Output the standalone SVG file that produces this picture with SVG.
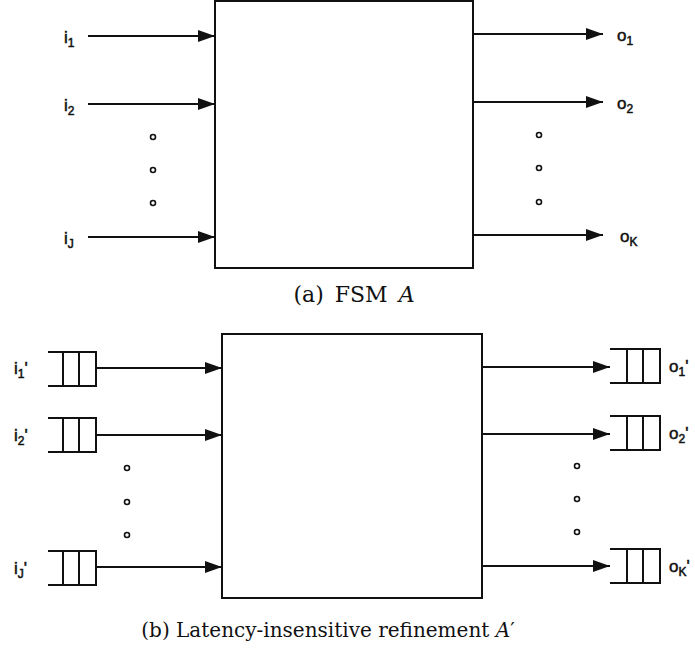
<svg xmlns="http://www.w3.org/2000/svg" width="695" height="655" viewBox="0 0 695 655">
<style>
.box{fill:none;stroke:#111;stroke-width:2}
.wire{stroke:#111;stroke-width:2;fill:none}
.q{stroke:#111;stroke-width:2;fill:none}
.dot{fill:#fff;stroke:#111;stroke-width:1.6}
.lbl{font-family:"Liberation Sans",Arial,sans-serif;font-size:17px;fill:#111;stroke:#111;stroke-width:0.5}
.sub{font-size:12px}
.cap{font-family:"DejaVu Serif","Liberation Serif",serif;font-size:20px;fill:#111}
.capa{font-size:22px;word-spacing:4px}
</style>
<defs>
<marker id="ah" viewBox="0 0 17 12" refX="17" refY="6" markerWidth="17" markerHeight="12" markerUnits="userSpaceOnUse" orient="auto">
<path d="M0,0 L17,6 L0,12 z" fill="#111"/>
</marker>
</defs>

<g id="fsmA">
<rect class="box" x="215" y="1" width="258" height="267"/>
</g>
<g id="labelsA">
<text class="lbl" x="64" y="43">i<tspan class="sub" dy="4">1</tspan></text>
<text class="lbl" x="64" y="111">i<tspan class="sub" dy="4">2</tspan></text>
<text class="lbl" x="64" y="244">i<tspan class="sub" dy="4">J</tspan></text>
<text class="lbl" x="617" y="41">o<tspan class="sub" dy="4">1</tspan></text>
<text class="lbl" x="617" y="109">o<tspan class="sub" dy="4">2</tspan></text>
<text class="lbl" x="620" y="242">o<tspan class="sub" dy="4">K</tspan></text>
</g>
<g id="dotsA">
<circle class="dot" cx="153" cy="137" r="2.5"/>
<circle class="dot" cx="153" cy="170" r="2.5"/>
<circle class="dot" cx="153" cy="203" r="2.5"/>
<circle class="dot" cx="539" cy="135" r="2.5"/>
<circle class="dot" cx="539" cy="168" r="2.5"/>
<circle class="dot" cx="539" cy="202" r="2.5"/>
</g>

<g id="fsmAprime">
<rect class="box" x="222" y="334" width="260" height="264"/>
</g>
<g id="inQueues">
<path class="q" d="M48,352 H96 V386 H48 M63,352 V386 M79,352 V386"/>
<path class="q" d="M48,418 H96 V452 H48 M63,418 V452 M79,418 V452"/>
<path class="q" d="M48,551 H96 V585 H48 M63,551 V585 M79,551 V585"/>
</g>
<g id="outQueues">
<path class="q" d="M610,349 H660 V383 H610 M627,349 V383 M643,349 V383"/>
<path class="q" d="M610,416 H660 V450 H610 M627,416 V450 M643,416 V450"/>
<path class="q" d="M610,549 H660 V583 H610 M627,549 V583 M643,549 V583"/>
</g>
<g id="labelsB">
<text class="lbl" x="14" y="374">i<tspan class="sub" dy="4">1</tspan><tspan dy="-4">'</tspan></text>
<text class="lbl" x="14" y="441">i<tspan class="sub" dy="4">2</tspan><tspan dy="-4">'</tspan></text>
<text class="lbl" x="14" y="574">i<tspan class="sub" dy="4">J</tspan><tspan dy="-4">'</tspan></text>
<text class="lbl" x="669" y="372">o<tspan class="sub" dy="4">1</tspan><tspan dy="-4">'</tspan></text>
<text class="lbl" x="669" y="439">o<tspan class="sub" dy="4">2</tspan><tspan dy="-4">'</tspan></text>
<text class="lbl" x="669" y="572">o<tspan class="sub" dy="4">K</tspan><tspan dy="-4">'</tspan></text>
</g>
<g id="dotsB">
<circle class="dot" cx="127" cy="468" r="2.5"/>
<circle class="dot" cx="127" cy="502" r="2.5"/>
<circle class="dot" cx="127" cy="535" r="2.5"/>
<circle class="dot" cx="577" cy="466" r="2.5"/>
<circle class="dot" cx="577" cy="499" r="2.5"/>
<circle class="dot" cx="577" cy="532" r="2.5"/>
</g>

<g id="connectors">
<line class="wire" x1="88" y1="36" x2="215" y2="36" marker-end="url(#ah)"/>
<line class="wire" x1="88" y1="104" x2="215" y2="104" marker-end="url(#ah)"/>
<line class="wire" x1="88" y1="237" x2="215" y2="237" marker-end="url(#ah)"/>
<line class="wire" x1="473" y1="34" x2="603" y2="34" marker-end="url(#ah)"/>
<line class="wire" x1="473" y1="102" x2="603" y2="102" marker-end="url(#ah)"/>
<line class="wire" x1="473" y1="235" x2="603" y2="235" marker-end="url(#ah)"/>
<line class="wire" x1="96" y1="368" x2="222" y2="368" marker-end="url(#ah)"/>
<line class="wire" x1="96" y1="435" x2="222" y2="435" marker-end="url(#ah)"/>
<line class="wire" x1="96" y1="567" x2="222" y2="567" marker-end="url(#ah)"/>
<line class="wire" x1="482" y1="367" x2="610" y2="367" marker-end="url(#ah)"/>
<line class="wire" x1="482" y1="434" x2="610" y2="434" marker-end="url(#ah)"/>
<line class="wire" x1="482" y1="566" x2="610" y2="566" marker-end="url(#ah)"/>
</g>

<g id="captions">
<text class="cap capa" x="354" y="302" text-anchor="middle">(a) FSM <tspan font-style="italic">A</tspan></text>
<text class="cap" x="328" y="637" text-anchor="middle">(b) Latency-insensitive refinement <tspan font-style="italic">A</tspan>′</text>
</g>
</svg>
